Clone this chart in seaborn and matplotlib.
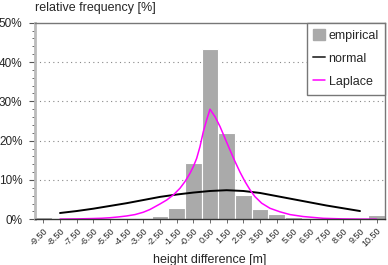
import matplotlib
matplotlib.use("Agg")
import matplotlib.pyplot as plt
from matplotlib.patches import Patch
from matplotlib.lines import Line2D
from matplotlib.ticker import MultipleLocator
import pandas as pd
import seaborn as sns

# bin centers [m] and empirical relative frequency [%]
bin_centers = [-9.5, -8.5, -7.5, -6.5, -5.5, -4.5, -3.5, -2.5, -1.5, -0.5, 0.5,
               1.5, 2.5, 3.5, 4.5, 5.5, 6.5, 7.5, 8.5, 9.5, 10.5]
empirical = [0.7, 0.0, 0.0, 0.0, 0.05, 0.1, 0.4, 0.9, 2.8, 14.4, 43.2,
             22.0, 6.2, 2.5, 1.3, 0.7, 0.3, 0.2, 0.1, 0.05, 1.0]
tick_labels = ["-9.50", "-8.50", "-7.50", "-6.50", "-5.50", "-4.50", "-3.50",
               "-2.50", "-1.50", "-0.50", "0.50", "1.50", "2.50", "3.50", "4.50",
               "5.50", "6.50", "7.50", "8.50", "9.50", "10.50"]

# fitted normal curve
normal_x = [-8.5, -7.5, -6.5, -5.5, -4.5, -3.5, -2.5, -1.5, -0.5, 0.5,
            1.5, 2.5, 3.5, 4.5, 5.5, 6.5, 7.5, 8.5, 9.5]
normal_y = [1.6, 2.1, 2.7, 3.4, 4.1, 4.9, 5.7, 6.3, 6.8, 7.2,
            7.4, 7.2, 6.7, 5.9, 5.1, 4.3, 3.5, 2.8, 2.1]

# fitted Laplace curve
laplace_x = [-8.5, -7.5, -6.5, -6.0, -5.5, -5.0, -4.5, -4.0, -3.5, -3.1, -2.5,
             -2.1, -1.7, -1.3, -1.0, -0.7, -0.5, -0.3, -0.1, 0.1, 0.3, 0.5,
             0.8, 1.1, 1.4, 1.7, 2.0, 2.3, 2.6, 2.9, 3.2, 3.6, 4.1, 4.7, 5.3,
             6.1, 7.3, 8.5, 9.5, 10.5]
laplace_y = [0.05, 0.1, 0.2, 0.27, 0.4, 0.6, 0.85, 1.2, 1.8, 2.5, 3.9,
             4.9, 6.2, 7.9, 9.6, 11.7, 13.4, 15.5, 18.5, 22.3, 25.3, 28.0,
             26.1, 23.6, 20.6, 17.6, 14.7, 12.0, 9.6, 7.5, 5.75, 4.1, 2.8, 1.9, 1.2,
             0.7, 0.25, 0.1, 0.05, 0.03]

sns.set_style("white")
plt.rcParams["font.family"] = ["Liberation Sans", "DejaVu Sans"]

bar_color = "#aaaaaa"
fig = plt.figure(figsize=(3.88, 2.65), dpi=100)
ax = fig.add_axes([35 / 388, 1 - 219.3 / 265, 350 / 388, (219.3 - 22.7) / 265])

hist_df = pd.DataFrame({"center": bin_centers, "freq": empirical})
sns.histplot(data=hist_df, x="center", weights="freq", binwidth=1, binrange=(-10, 11),
             color=bar_color, edgecolor="white", linewidth=0.8, alpha=1, ax=ax)

sns.lineplot(x=normal_x, y=normal_y, color="black", linewidth=1.4, ax=ax)
sns.lineplot(x=laplace_x, y=laplace_y, color="#ff00ff", linewidth=1.1, ax=ax)

ax.set_xlim(-10, 11)
ax.set_ylim(0, 50)
ax.set_xticks(bin_centers)
ax.set_xticklabels(tick_labels, rotation=45, ha="right", rotation_mode="anchor",
                   fontsize=6.5)
ax.set_yticks([0, 10, 20, 30, 40, 50])
ax.set_yticklabels(["0%", "10%", "20%", "30%", "40%", "50%"], fontsize=8.5)
ax.yaxis.set_minor_locator(MultipleLocator(2))
ax.tick_params(axis="y", which="major", direction="out", length=4, width=0.8,
               color="#555555", pad=5, left=True)
ax.tick_params(axis="y", which="minor", direction="out", length=2, width=0.6,
               color="#555555", left=True)
ax.tick_params(axis="x", which="major", direction="out", length=3, width=0.6,
               color="#555555", pad=2, bottom=True)

ax.set_xlabel("height difference [m]", fontsize=9, labelpad=4)
ax.set_ylabel("")
fig.text(35 / 388, 1 - 8 / 265, "relative frequency [%]", fontsize=9,
         ha="left", va="center")

for y in [10, 20, 30, 40]:
    ax.axhline(y, color="#888888", linestyle=(0, (1, 3)), linewidth=0.8, zorder=0.5)

for side in ["top", "right"]:
    ax.spines[side].set_visible(True)
    ax.spines[side].set_color("#777777")
    ax.spines[side].set_linewidth(1)
ax.spines["left"].set_color("#bbbbbb")
ax.spines["left"].set_linewidth(2)
ax.spines["bottom"].set_color("#333333")
ax.spines["bottom"].set_linewidth(1)

handles = [Patch(facecolor=bar_color, edgecolor=bar_color),
           Line2D([], [], color="#444444", linewidth=1.4),
           Line2D([], [], color="#ff00ff", linewidth=1.1)]
leg = ax.legend(handles, ["empirical", "normal", "Laplace"], loc="upper right",
                fontsize=9, frameon=True, fancybox=False, borderaxespad=0,
                labelspacing=0.85, handlelength=0.95, handleheight=0.95,
                handletextpad=0.3, borderpad=0.5)
leg.get_frame().set_edgecolor("#777777")
leg.get_frame().set_linewidth(1)
leg.get_frame().set_alpha(1)

fig.savefig("out.png", dpi=100)
